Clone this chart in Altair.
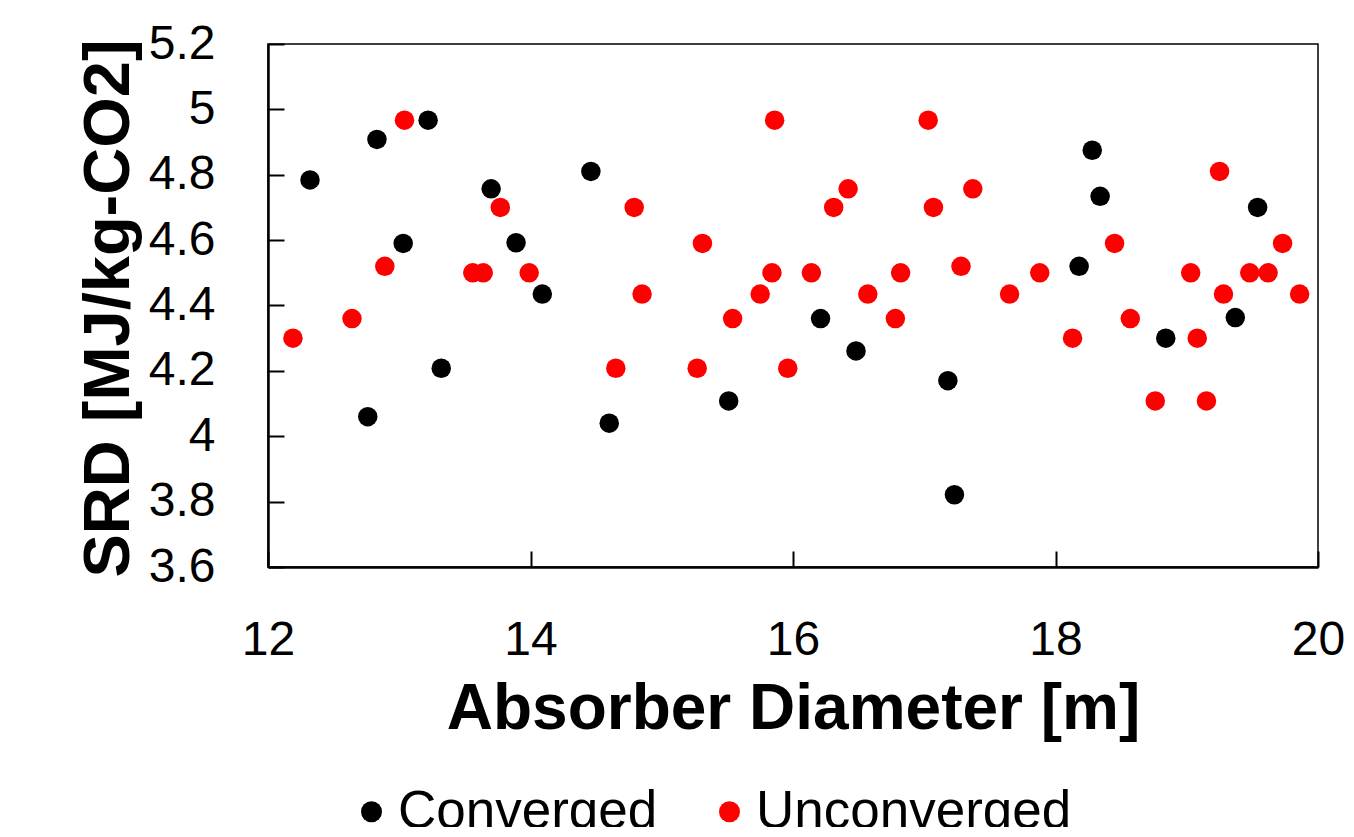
import altair as alt
import pandas as pd

# Converged runs
conv_x = [12.32, 12.76, 12.83, 13.03, 13.22, 13.32, 13.70, 13.89, 14.09, 14.46, 14.60,
          15.51, 16.21, 16.48, 17.18, 17.23, 18.18, 18.28, 18.34, 18.84, 19.37, 19.54]
conv_y = [4.784, 4.06, 4.908, 4.59, 4.967, 4.208, 4.757, 4.592, 4.435, 4.81, 4.04,
          4.108, 4.36, 4.261, 4.17, 3.821, 4.52, 4.875, 4.734, 4.30, 4.363, 4.70]

# Unconverged runs
unc_x = [12.19, 12.64, 12.89, 13.04, 13.56, 13.64, 13.77, 13.99, 14.65, 14.79, 14.85,
         15.27, 15.31, 15.54, 15.75, 15.84, 15.86, 15.96, 16.14, 16.31, 16.42, 16.57,
         16.78, 16.82, 17.03, 17.07, 17.28, 17.37, 17.65, 17.88, 18.13, 18.45, 18.57,
         18.76, 19.03, 19.08, 19.15, 19.25, 19.28, 19.48, 19.62, 19.73, 19.86]
unc_y = [4.30, 4.36, 4.52, 4.967, 4.50, 4.50, 4.70, 4.50, 4.208, 4.70, 4.435,
         4.208, 4.59, 4.36, 4.435, 4.50, 4.967, 4.208, 4.50, 4.70, 4.757, 4.435,
         4.36, 4.50, 4.967, 4.70, 4.52, 4.757, 4.435, 4.50, 4.30, 4.59, 4.36,
         4.108, 4.50, 4.30, 4.108, 4.81, 4.435, 4.50, 4.50, 4.59, 4.435]

series_names = ["Converged", "Unconverged"]
series_colors = ["#000000", "#ff0000"]

x_ticks = [12, 14, 16, 18, 20]
y_ticks = [3.6, 3.8, 4.0, 4.2, 4.4, 4.6, 4.8, 5.0, 5.2]

W, H = 1050, 523
FONT = "Liberation Sans"

df = pd.DataFrame({
    "x": conv_x + unc_x,
    "y": conv_y + unc_y,
    "s": [series_names[0]] * len(conv_x) + [series_names[1]] * len(unc_x),
})
df_xt = pd.DataFrame({"v": x_ticks})
df_yt = pd.DataFrame({"v": y_ticks})

xscale = alt.Scale(domain=[12, 20], nice=False, zero=False)
yscale = alt.Scale(domain=[3.6, 5.2], nice=False, zero=False)

points = alt.Chart(df).mark_circle(size=380, opacity=1).encode(
    x=alt.X("x:Q", scale=xscale, axis=alt.Axis(
        orient="bottom", values=x_ticks, format="d", title="Absorber Diameter [m]",
        ticks=False, tickSize=0, labelPadding=49, labelFontSize=48, labelFont=FONT,
        labelColor="black", labelFlush=False, labelOverlap=False, grid=False,
        domainColor="black", domainWidth=2.5,
        titleFont=FONT, titleFontSize=64, titleFontWeight="bold", titleColor="black",
        titleBaseline="alphabetic", titleY=161)),
    y=alt.Y("y:Q", scale=yscale, axis=alt.Axis(
        orient="left", values=y_ticks, format=".1~f", title="SRD [MJ/kg-CO2]",
        ticks=False, tickSize=0, labelPadding=53, labelFontSize=48, labelFont=FONT,
        labelColor="black", labelFlush=False, labelOverlap=False, grid=False,
        domainColor="black", domainWidth=2.5,
        titleFont=FONT, titleFontSize=65, titleFontWeight="bold", titleColor="black",
        titleAngle=270, titleBaseline="alphabetic", titleAlign="center",
        titleX=-140, titleY=264)),
    color=alt.Color("s:N", scale=alt.Scale(domain=series_names, range=series_colors),
                    legend=alt.Legend(
                        title=None, orient="none", direction="horizontal",
                        legendX=77, legendY=741, symbolType="circle", symbolSize=440,
                        symbolStrokeWidth=0, symbolOpacity=1, labelFont=FONT,
                        labelFontSize=53, labelColor="black", labelOffset=0,
                        columnPadding=45, padding=0, labelLimit=1000)),
    order=alt.Order("s:N"),
)

# inward-pointing tick marks: axes shifted into the plot area
yt = alt.Chart(df_yt).mark_point(opacity=0).encode(
    y=alt.Y("v:Q", scale=yscale, axis=alt.Axis(
        orient="left", offset=-16, values=y_ticks, ticks=True, tickSize=16,
        tickWidth=2, tickColor="black", labels=False, domain=False, grid=False,
        title=None)))
xt = alt.Chart(df_xt).mark_point(opacity=0).encode(
    x=alt.X("v:Q", scale=xscale, axis=alt.Axis(
        orient="bottom", offset=-16, values=x_ticks, ticks=True, tickSize=16,
        tickWidth=2, tickColor="black", labels=False, domain=False, grid=False,
        title=None)))

chart = alt.layer(points, yt, xt).resolve_axis(
    x="independent", y="independent"
).properties(
    width=W, height=H,
    padding={"left": 260, "top": 36, "right": 27, "bottom": 260},
    autosize=alt.AutoSizeParams(type="none"),
).configure_view(stroke="black", strokeWidth=1.5)

chart.save("out.html", embed_options={"renderer": "svg", "actions": False})
